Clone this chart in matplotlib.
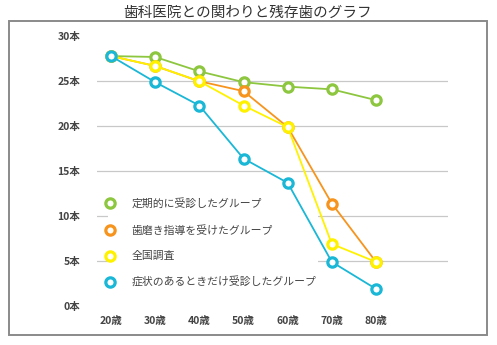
import matplotlib.pyplot as plt
from matplotlib.patches import Rectangle

plt.rcParams['font.family'] = ['Noto Sans CJK JP', 'DejaVu Sans']

# data
ages = [20, 30, 40, 50, 60, 70, 80]
age_labels = ['20歳', '30歳', '40歳', '50歳', '60歳', '70歳', '80歳']
regular = [27.8, 27.7, 26.1, 24.9, 24.4, 24.1, 22.9]      # 定期的に受診したグループ
brushing = [27.8, 26.7, 25.0, 23.9, 19.9, 11.4, 4.9]     # 歯磨き指導を受けたグループ
national = [27.8, 26.7, 25.0, 22.3, 19.9, 6.9, 4.9]      # 全国調査
symptom = [27.8, 24.9, 22.3, 16.4, 13.7, 4.9, 1.9]       # 症状のあるときだけ受診したグループ
series_names = ['定期的に受診したグループ', '歯磨き指導を受けたグループ', '全国調査',
                '症状のあるときだけ受診したグループ']
yticks = [0, 5, 10, 15, 20, 25, 30]
ytick_labels = ['0本', '5本', '10本', '15本', '20本', '25本', '30本']
grid_vals = [5, 10, 15, 20, 25]

colors = ['#8dc63f', '#f7941d', '#fff200', '#1ab7d6']

W, H = 497, 345
fig = plt.figure(figsize=(W / 100, H / 100), dpi=100)

# outer frame
fig.patches.append(Rectangle((9 / W, 10 / H), 478 / W, 314 / H, transform=fig.transFigure,
                             fill=False, edgecolor='#8a8a8a', lw=1.4))
fig.text(248 / W, 1 - 13 / H, '歯科医院との関わりと残存歯のグラフ', ha='center', va='center',
         fontsize=10.5, color='#333333')

ax = fig.add_axes([97 / W, (H - 306) / H, (448 - 97) / W, (306 - 30) / H])
ax.set_xlim(16.83, 96.3)
ax.set_ylim(0, 30.7)

for g in grid_vals:
    ax.axhline(g, color='#c8c8c8', lw=0.9, zorder=1)

for vals, c, name in zip([regular, brushing, national, symptom], colors, series_names):
    ax.plot(ages, vals, '-o', color=c, lw=1.3, ms=6.7, mew=2.3, mfc='white', mec=c,
            label=name, zorder=3)

for s in ax.spines.values():
    s.set_visible(False)
ax.set_xticks(ages)
ax.set_xticklabels(age_labels)
ax.set_yticks(yticks)
ax.set_yticklabels(ytick_labels)
ax.tick_params(length=0, labelsize=7.5, labelcolor='#444444')
ax.tick_params(axis='y', pad=12)
ax.tick_params(axis='x', pad=7)
for t in ax.get_xticklabels() + ax.get_yticklabels():
    t.set_fontweight('bold')

leg = ax.legend(loc='upper left', bbox_to_anchor=(0.031, (306 - 196) / (306 - 30)),
                frameon=True, facecolor='white', edgecolor='none', framealpha=1,
                fontsize=7.8, labelspacing=1.45, handlelength=0, handletextpad=1.95,
                borderpad=0.2, borderaxespad=0)
for t in leg.get_texts():
    t.set_color('#444444')
leg.set_zorder(2)

fig.savefig('out.png', dpi=100)
